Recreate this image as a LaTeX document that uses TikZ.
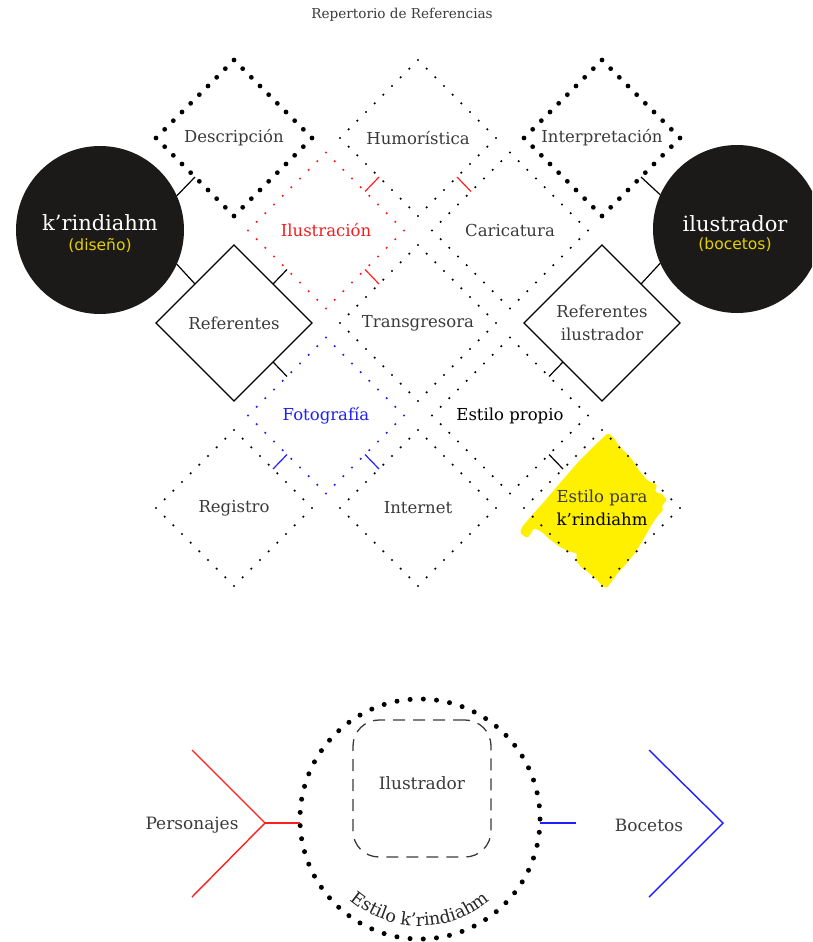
\documentclass[tikz,border=0pt]{standalone}
\usepackage{fontspec}
\setmainfont{DejaVu Serif}
\newfontfamily\sansfam{DejaVu Sans}
\usetikzlibrary{shapes.geometric,decorations.text}

\definecolor{ink}{HTML}{3A3A3A}
\definecolor{circfill}{HTML}{1C1A19}
\definecolor{yeltext}{HTML}{E3D000}
\definecolor{blobyellow}{HTML}{FFF000}
\definecolor{redline}{HTML}{FF1F1F}
\definecolor{blueline}{HTML}{1F1FFF}
\definecolor{redtext}{HTML}{F21D1D}
\definecolor{bluetext}{HTML}{2020EE}

\newcommand\lblfont{\fontsize{16.5}{23}\selectfont}
\newcommand\bigfont{\fontsize{21}{24}\selectfont}
\newcommand\subfont{\sansfam\fontsize{15.5}{18}\selectfont}

\begin{document}
\begin{tikzpicture}[x=1pt,y=1pt,
  diam/.style={shape=diamond, minimum width=156pt, minimum height=156pt,
    inner sep=0pt, outer sep=0pt, align=center, font=\lblfont, text=ink},
  dotline/.style 2 args={line width=#1, line cap=round, dash pattern=on 0pt off #2},
  bigdots/.style={draw=black, dotline={4.8pt}{12.2566pt}},
  smalldots/.style={draw=#1, dotline={2.4pt}{12.2566pt}},
  smalldots/.default=black,
  frame/.style={draw=black, line width=1.3pt},
  bridge/.style={draw=#1, line width=1.2pt},
  bridge/.default=black,
  disc/.style={circle, minimum size=168pt, inner sep=0pt, outer sep=0pt, fill=circfill},
  lbl/.style={font=\lblfont, text=ink, inner sep=0pt},
  chev/.style={draw=#1, line width=1.4pt}
]
\clip (0,0) rectangle (812,-942);

% title
\node[lbl, font=\fontsize{13.6}{16}\selectfont] (title) at (402,-15) {Repertorio de Referencias};

% yellow highlight behind the last diamond
\fill[blobyellow, rounded corners=1.5pt]
  (608,-433) -- (613,-437) -- (620,-447) -- (631,-458) -- (636,-466) -- (641,-473)
  -- (647,-480) -- (652,-483) -- (657,-484) -- (655,-492) -- (662,-494) -- (667,-500)
  -- (662,-505) -- (663,-511) -- (659,-514) -- (652,-524) -- (643,-540) -- (635,-553)
  -- (627,-563) -- (617,-574) -- (607,-588) -- (602,-586) -- (597,-580) -- (588,-572)
  -- (582,-568) -- (576,-561) -- (577,-553) -- (570,-552) -- (560,-547) -- (548,-538)
  -- (542,-532) -- (534,-528) -- (530,-535) -- (527,-538) -- (520,-533) -- (522,-527)
  -- (533,-514) -- (543,-503) -- (560,-483) -- (580,-460) -- (595,-445) -- cycle;

% side discs
\node[disc] (kcirc) at (100,-230) {};
\node[font=\bigfont, text=white, inner sep=0pt] (ktxt) at (100,-223) {k’rindiahm};
\node[font=\subfont, text=yeltext, inner sep=0pt] (ksub) at (100,-245) {(diseño)};
\node[disc] (icirc) at (737,-229) {};
\node[font=\bigfont, text=white, inner sep=0pt] (itxt) at (735,-224) {ilustrador};
\node[font=\subfont, text=yeltext, inner sep=0pt] (isub) at (735,-245) {(bocetos)};

% diamond grid
\node[diam, bigdots] (desc) at (234,-138) {Descripción};
\node[diam, smalldots] (humo) at (418,-138) {Humorística};
\node[diam, bigdots] (inter) at (602,-138) {Interpretación};
\node[diam, smalldots=redline, text=redtext] (ilus) at (326,-230.5) {Ilustración};
\node[diam, smalldots] (cari) at (510,-230.5) {Caricatura};
\node[diam, frame] (refe) at (234,-323) {Referentes};
\node[diam, smalldots] (trans) at (418,-323) {Transgresora};
\node[diam, frame] (refil) at (602,-323) {Referentes\\ilustrador};
\node[diam, smalldots=blueline, text=bluetext] (foto) at (326,-415.5) {Fotografía};
\node[diam, smalldots, text=black] (estp) at (510,-415.5) {Estilo propio};
\node[diam, smalldots] (regi) at (234,-508) {Registro};
\node[diam, smalldots] (inet) at (418,-508) {Internet};
\node[diam, smalldots] (estk) at (602,-508) {Estilo para\\\textcolor{black}{k’rindiahm}};

% short bridges between neighbouring shapes
\draw[bridge] (desc.south west) -- (kcirc.24);
\draw[bridge] (refe.north west) -- (kcirc.-24);
\draw[bridge] (inter.south east) -- (icirc.156);
\draw[bridge] (refil.north east) -- (icirc.204);
\draw[bridge=redline] (ilus.north east) -- (humo.south west);
\draw[bridge=redline] (humo.south east) -- (cari.north west);
\draw[bridge=redline] (ilus.south east) -- (trans.north west);
\draw[bridge] (refe.north east) -- (ilus.south west);
\draw[bridge] (refe.south east) -- (foto.north west);
\draw[bridge=blueline] (foto.south west) -- (regi.north east);
\draw[bridge=blueline] (foto.south east) -- (inet.north west);
\draw[bridge] (refil.south west) -- (estp.north east);
\draw[bridge] (estp.south east) -- (estk.north west);

% lower figure: dotted ring with dashed box
\node[circle, minimum size=240pt, inner sep=0pt, outer sep=0pt, draw=black,
      dotline={5pt}{13.2277pt}] (ring) at (420,-819) {};
\node[rectangle, rounded corners=26pt, minimum width=138pt, minimum height=137pt,
      draw=ink, line width=1.3pt, dash pattern=on 12pt off 8pt] (box) at (422,-788.5) {};
\node[lbl, font=\fontsize{17}{20}\selectfont] (boxtxt) at (422,-783) {Ilustrador};
\path[decorate, decoration={text along path, text align=center,
      text={|\fontsize{17.5}{20}\selectfont\color{black!85}|Estilo k’rindiahm}}]
  (ring.center) ++(212:107) arc[start angle=212, end angle=328, radius=107];

% left chevron
\coordinate (pTop) at (192,-750);
\coordinate (pTip) at (265,-823);
\coordinate (pBot) at (192,-897);
\draw[chev=redline] (pTop) -- (pTip) -- (pBot);
\draw[chev=redline] (pTip) -- (pTip -| ring.west);
\node[lbl, font=\fontsize{17}{20}\selectfont] (pers) at (192,-825) {Personajes};

% right chevron
\coordinate (bFree) at (576,-823);
\coordinate (bTop) at (649,-750);
\coordinate (bTip) at (723,-823);
\coordinate (bBot) at (649,-897);
\draw[chev=blueline] (bFree -| ring.east) -- (bFree);
\draw[chev=blueline] (bTop) -- (bTip) -- (bBot);
\node[lbl, font=\fontsize{17}{20}\selectfont] (boc) at (649,-825) {Bocetos};
\end{tikzpicture}
\end{document}
